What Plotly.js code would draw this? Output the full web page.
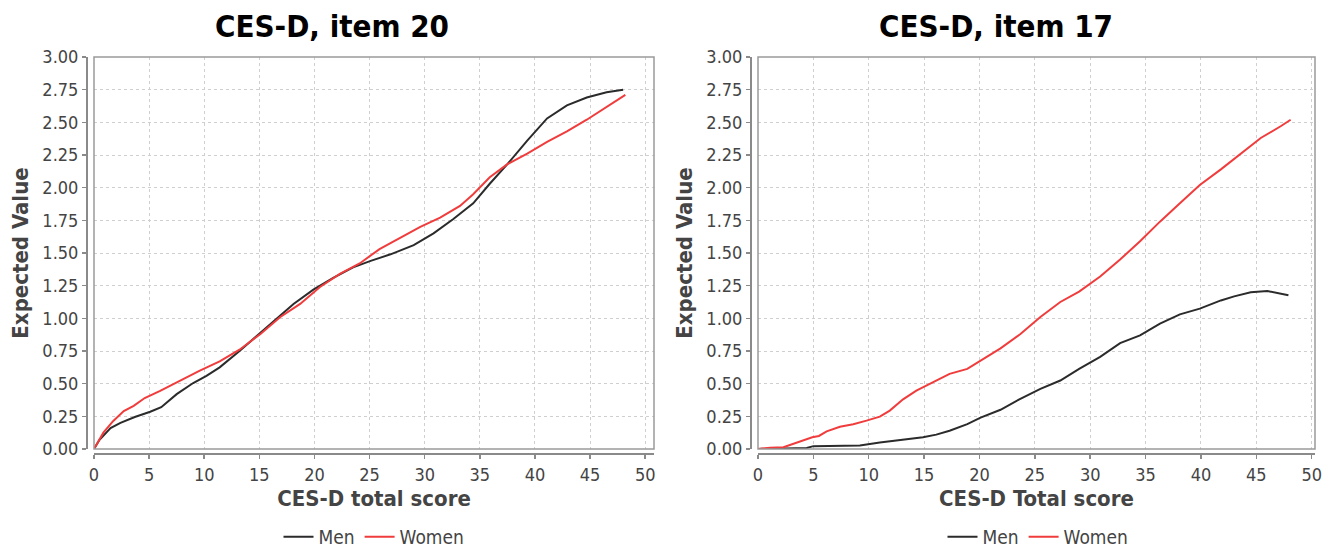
<!DOCTYPE html>
<html>
<head>
<meta charset="utf-8">
<script src="https://cdn.plot.ly/plotly-3.0.1.min.js"></script>
<style>html,body{margin:0;padding:0;background:#fff;}#chart{width:1330px;height:548px;}</style>
</head>
<body>
<div id="chart"></div>
<script>
// ---- Data ----
const seriesNames = ["Men", "Women"];
const panelTitles = ["CES-D, item 20", "CES-D, item 17"];
const xTitles = ["CES-D total score", "CES-D Total score"];
const yTitle = "Expected Value";
const yTickVals = [0, 0.25, 0.5, 0.75, 1, 1.25, 1.5, 1.75, 2, 2.25, 2.5, 2.75, 3];
const xTickVals = [0, 5, 10, 15, 20, 25, 30, 35, 40, 45, 50];

// Item 20
const item20MenX = [0, 0.5, 1.5, 2.4, 3.7, 5.1, 6.1, 7.5, 9.0, 10.2, 11.4, 13.2, 15.1, 16.3, 18.1, 19.9, 21.7, 23.5, 25.1, 26.9, 29.0, 30.8, 32.6, 34.4, 35.9, 37.5, 39.3, 41.1, 42.9, 44.7, 46.5, 48.0];
const item20MenY = [0, 0.07, 0.16, 0.20, 0.245, 0.285, 0.32, 0.42, 0.505, 0.56, 0.625, 0.75, 0.89, 0.98, 1.11, 1.22, 1.31, 1.39, 1.44, 1.49, 1.56, 1.65, 1.76, 1.88, 2.03, 2.18, 2.36, 2.53, 2.63, 2.69, 2.73, 2.75];
const item20WomenX = [0, 0.85, 1.75, 2.7, 3.6, 4.6, 6.0, 7.8, 9.6, 11.4, 13.2, 15.1, 16.9, 18.7, 20.5, 22.3, 24.1, 25.9, 27.8, 29.6, 31.4, 33.2, 34.4, 35.9, 37.5, 39.3, 41.1, 42.9, 44.7, 46.5, 48.2];
const item20WomenY = [0, 0.125, 0.215, 0.29, 0.33, 0.39, 0.445, 0.525, 0.60, 0.67, 0.76, 0.88, 1.01, 1.11, 1.24, 1.34, 1.42, 1.53, 1.62, 1.70, 1.77, 1.86, 1.95, 2.08, 2.18, 2.26, 2.35, 2.43, 2.52, 2.62, 2.71];

// Item 17
const item17MenX = [0, 2.0, 4.4, 5.0, 7.0, 9.2, 11.0, 12.8, 14.9, 16.1, 17.3, 18.9, 20.1, 21.9, 23.6, 25.5, 27.3, 29.0, 30.9, 32.7, 34.5, 36.3, 38.1, 39.9, 41.8, 43.0, 44.5, 46.0, 47.9];
const item17MenY = [0, 0.003, 0.008, 0.022, 0.024, 0.026, 0.05, 0.07, 0.09, 0.11, 0.14, 0.19, 0.24, 0.30, 0.38, 0.46, 0.524, 0.613, 0.705, 0.81, 0.87, 0.96, 1.03, 1.074, 1.137, 1.168, 1.20, 1.209, 1.176];
const item17WomenX = [0, 1.1, 2.3, 3.2, 4.1, 4.9, 5.5, 6.2, 7.4, 8.6, 9.8, 11.0, 11.9, 13.1, 14.3, 15.8, 17.3, 18.9, 20.1, 21.9, 23.7, 25.5, 27.3, 29.0, 30.9, 32.7, 34.5, 36.3, 38.1, 39.9, 41.8, 43.6, 45.4, 47.2, 48.1];
const item17WomenY = [0, 0.01, 0.013, 0.04, 0.064, 0.09, 0.10, 0.135, 0.17, 0.19, 0.217, 0.248, 0.294, 0.38, 0.447, 0.51, 0.575, 0.613, 0.677, 0.77, 0.88, 1.01, 1.125, 1.205, 1.32, 1.45, 1.59, 1.74, 1.88, 2.02, 2.14, 2.26, 2.38, 2.47, 2.52];

// ---- Styling ----
const FONT = "DejaVu Sans Condensed, DejaVu Sans, sans-serif";
const MEN_COLOR = "#2b2b2b";
const WOMEN_COLOR = "#f03c3c";
const AXIS_COLOR = "#8a8a8a";
const TEXT_GRAY = "#444444";

function trace(x, y, name, color, xa, ya, leg) {
  return {x: x, y: y, name: name, type: "scatter", mode: "lines",
    line: {color: color, width: 2}, xaxis: xa, yaxis: ya, legend: leg, hoverinfo: "x+y"};
}

const data = [
  trace(item20MenX, item20MenY, seriesNames[0], MEN_COLOR, "x", "y", "legend"),
  trace(item20WomenX, item20WomenY, seriesNames[1], WOMEN_COLOR, "x", "y", "legend"),
  trace(item17MenX, item17MenY, seriesNames[0], MEN_COLOR, "x2", "y2", "legend2"),
  trace(item17WomenX, item17WomenY, seriesNames[1], WOMEN_COLOR, "x2", "y2", "legend2")
];

const W = 1330, H = 548;
function xAxis(domain, range, title) {
  return {
    domain: domain, range: range, anchor: "free", position: (H - 454) / H,
    tickvals: xTickVals, ticktext: xTickVals.map(String),
    ticks: "outside", ticklen: 4, tickwidth: 1.5, tickcolor: AXIS_COLOR,
    showline: true, linecolor: AXIS_COLOR, linewidth: 2,
    showgrid: true, gridcolor: "#cfcfcf", griddash: "dot", gridwidth: 1,
    zeroline: false, tickfont: {family: FONT, size: 18, color: TEXT_GRAY},
    title: {text: title, standoff: 6, font: {family: FONT, size: 22, color: TEXT_GRAY, weight: "bold"}},
    automargin: false, fixedrange: true
  };
}
function yAxis(pos) {
  return {
    domain: [(H - 449) / H, (H - 57) / H], range: [0, 3], anchor: "free", position: pos,
    tickvals: yTickVals, tickformat: ".2f",
    ticks: "outside", ticklen: 4, tickwidth: 1.5, tickcolor: AXIS_COLOR,
    showline: true, linecolor: AXIS_COLOR, linewidth: 2,
    showgrid: true, gridcolor: "#cfcfcf", griddash: "dot", gridwidth: 1,
    zeroline: false, tickfont: {family: FONT, size: 18, color: TEXT_GRAY},
    title: {text: yTitle, standoff: 7, font: {family: FONT, size: 22, color: TEXT_GRAY, weight: "bold"}},
    automargin: false, fixedrange: true
  };
}

const frame = (xr, yr) => ({type: "rect", xref: xr + " domain", yref: yr + " domain",
  x0: 0, x1: 1, y0: 0, y1: 1, line: {color: "#9a9a9a", width: 1.5}, layer: "above"});

const legendStyle = (cx) => ({orientation: "h", x: cx / W, xanchor: "center", y: (H - 537) / H, yanchor: "middle",
  font: {family: FONT, size: 19, color: TEXT_GRAY}, itemwidth: 30, tracegroupgap: 0, bgcolor: "rgba(0,0,0,0)"});

const layout = {
  width: W, height: H,
  margin: {l: 0, r: 0, t: 0, b: 0, pad: 0, autoexpand: false},
  paper_bgcolor: "#ffffff", plot_bgcolor: "#ffffff",
  font: {family: FONT, color: TEXT_GRAY},
  xaxis: xAxis([94 / W, 654 / W], [0, 50.8], xTitles[0]),
  yaxis: yAxis(87 / W),
  xaxis2: xAxis([758 / W, 1315 / W], [0, 50.3], xTitles[1]),
  yaxis2: yAxis(751 / W),
  showlegend: true,
  legend: legendStyle(374),
  legend2: legendStyle(1038),
  shapes: [frame("x", "y"), frame("x2", "y2")],
  annotations: [
    {text: panelTitles[0], xref: "paper", yref: "paper", x: 332 / W, y: (H - 26) / H,
      xanchor: "center", yanchor: "middle", showarrow: false,
      font: {family: FONT, size: 31, color: "#000", weight: "bold"}},
    {text: panelTitles[1], xref: "paper", yref: "paper", x: 996 / W, y: (H - 26) / H,
      xanchor: "center", yanchor: "middle", showarrow: false,
      font: {family: FONT, size: 31, color: "#000", weight: "bold"}}
  ]
};

Plotly.newPlot("chart", data, layout, {displayModeBar: false, staticPlot: true});
</script>
</body>
</html>
